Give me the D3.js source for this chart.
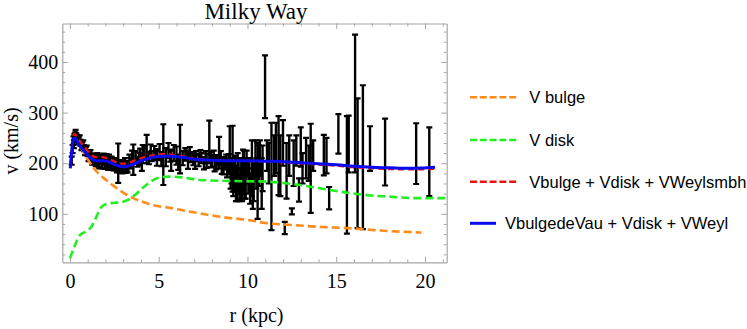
<!DOCTYPE html>
<html>
<head>
<meta charset="utf-8">
<script src="https://cdn.jsdelivr.net/npm/d3@7"></script>
<style>
  body { margin: 0; background: #fff; }
  svg text { fill: #000; }
</style>
</head>
<body>
<svg id="chart" width="747" height="329"></svg>
<script>
// observed rotation curve (r in kpc, v in km/s, symmetric error)
var obsR = [0.10,0.15,0.20,0.25,0.30,0.35,0.40,0.45,0.50,0.60,0.70,0.80,0.90,1.00,1.10,1.20,1.30,1.40,1.50,1.60,
  1.70,1.80,1.90,2.00,2.10,2.20,2.30,2.40,2.50,2.60,2.72,2.80,2.90,3.00,3.10,3.20,3.35,3.45,3.57,3.70,
  3.80,3.95,4.10,4.20,4.32,4.45,4.60,4.75,4.90,5.05,5.26,5.40,5.55,5.70,5.85,6.00,6.20,6.35,6.50,6.65,
  6.80,6.95,7.10,7.25,7.40,7.55,7.70,7.85,8.00,8.15,8.30,8.40,8.55,8.70,8.85,9.00,9.10,9.16,9.25,9.35,
  9.45,9.55,9.65,9.75,9.85,9.95,10.05,10.15,10.25,10.35,10.45,10.57,10.70,10.85,10.99,11.10,11.20,11.35,11.50,11.60,
  11.75,11.85,12.00,12.10,12.20,12.35,12.50,12.60,12.75,12.90,13.00,13.10,13.30,13.45,13.56,13.70,14.30,14.45,14.60,15.12,
  15.60,15.70,16.06,16.20,16.50,16.90,17.75,19.50,20.24,
  0.22,0.32,0.42,0.55,0.65,0.75,0.85,0.95,1.05,1.15,1.25,1.35,1.45,1.55,1.65,1.75,1.85,1.95,2.05,2.15,
  2.25,2.35,2.45,2.55,2.65,2.85,2.95,3.05,3.15,3.25,3.50,3.90,4.05,4.55,4.85,5.15,5.65,6.10,6.55,6.75,
  7.05,7.35,7.65,7.95,8.10,8.25,8.50,8.65,8.80,8.95,9.05,9.20,9.30,9.40,9.50,9.60,9.70,9.80,9.90,10.10,
  10.30,10.50,10.65,10.80];
var obsV = [205,228,245,252,255,253,250,248,245,240,236,230,226,220,215,212,208,205,210,201,
  207,198,212,205,200,210,196,202,198,193,200,190,197,192,200,195,205,200,207,212,
  203,215,218,222,228,210,214,220,210,222,217,212,225,205,220,215,228,210,218,205,
  212,208,214,206,210,200,205,242,204,198,206,221,195,200,190,230,185,209,175,160,
  190,150,170,182,160,200,175,150,190,165,205,165,210,190,351,215,200,174,215,230,
  215,195,240,72,185,215,105,200,225,147,232,190,210,200,190,215,216,215,131,258,
  177,238,318,200,212,229,222,219,203,
  238,260,243,250,232,240,222,230,210,220,203,214,200,215,196,212,205,195,213,193,
  203,208,192,204,188,200,186,198,187,190,215,208,200,225,218,208,215,202,215,220,
  203,216,212,208,215,200,210,193,205,198,180,165,190,145,175,160,140,195,170,185,
  150,180,195,160];
var obsErr = [8,8,8,6,6,6,6,6,6,6,6,6,6,6,7,7,7,7,7,8,
  8,8,7,8,8,7,8,8,8,7,39,8,8,8,10,9,12,10,30,12,
  10,14,18,12,28,12,10,14,15,16,60,18,15,20,16,18,48,14,12,16,
  10,12,10,12,10,12,14,42,12,14,10,31,16,12,18,43,25,65,30,35,
  30,25,40,45,30,25,35,30,55,40,40,75,35,45,62,30,40,106,40,50,
  78,60,45,12,55,40,6,45,30,23,39,30,40,35,88,30,40,35,22,39,
  116,56,136,128,142,44,66,60,68,
  8,6,6,5,6,5,6,5,6,6,6,5,6,5,6,5,6,6,5,6,
  6,5,6,6,6,6,6,6,6,8,10,12,15,12,10,14,12,15,10,12,
  14,10,12,15,10,12,14,15,12,20,30,30,25,20,35,30,15,30,40,25,
  40,30,40,50];

// model curves
var bulgeR = [0.2,0.4,0.6,0.8,1.0,1.3,1.6,2.0,2.5,3.0,3.5,4.0,4.5,5.0,5.6,6.5,7.3,8.5,10,11,12.5,14,15.8,17.5,19.8];
var bulgeV = [250,245,232,220,208,192,180,168,154,142,132,125,119,115,112,106,101,94,88,82,78,74.5,71.5,67,63];

var diskR = [0.0,0.25,0.56,0.9,1.22,1.5,1.78,2.1,2.54,3.0,3.3,3.66,4.0,4.41,4.75,5.07,5.63,6.3,7.32,9,11.08,12,12.96,14,14.83,15.8,16.7,18,19.5,21.4];
var diskV = [12,35,58,65,75,95,114,120,122,124,128,137,148,160,168,172,173.5,172,167,165,163.6,161,157,151,146,141,137,134,131,131];

var smbhR = [0.02,0.08,0.15,0.25,0.35,0.5,0.7,0.9,1.1,1.3,1.5,1.8,2.1,2.4,2.7,3.0,3.3,3.7,4.2,4.7,5.2,5.7,6.3,7,8,9,10,11,12,13,14,15,16,17,18,19,19.8,20.56];
var smbhV = [195,222,248,258,255,247,237,229,220,214,212,212,210,205,201,199,201,206,212,216,218,217,214,209,206,205,204.5,203.5,202,200,197.5,195,192,190,188.5,188,188,189];

var deVauR = smbhR;
var deVauV = [190,215,240,250,247,238,228,220,212,207,205,205,204,199,195,193,195,200,207,212,214,214,212,208,206,205,205,204,203,201,199,197,194,192,191,190,190.5,192];

var xMajor = [0,5,10,15,20];
var yMajor = [100,200,300,400];

var legendNames = ["V bulge", "V disk", "Vbulge + Vdisk + VWeylsmbh", "VbulgedeVau + Vdisk + VWeyl"];
var legendColors = ["#ff8c1a", "#22ee22", "#ee1111", "#0a0aee"];

var svg = d3.select("#chart");
var plotLeft = 62.3, plotRight = 446.7, plotTop = 23.5, plotBottom = 262.3;

var x = d3.scaleLinear().domain([-0.43, 21.22]).range([plotLeft, plotRight]);
var y = d3.scaleLinear().domain([4.3, 476]).range([plotBottom, plotTop]);

svg.append("clipPath").attr("id", "plotclip")
  .append("rect")
  .attr("x", plotLeft).attr("y", plotTop)
  .attr("width", plotRight - plotLeft).attr("height", plotBottom - plotTop);

// frame + ticks
var frameColor = "#a6a6a6";
function styleAxis(g) {
  g.selectAll("path.domain").attr("stroke", frameColor).attr("stroke-width", 1.2);
  g.selectAll(".tick line").attr("stroke", frameColor);
}
var xMinor = d3.range(0, 22, 1).filter(function(d) { return d % 5 !== 0; });
var yMinor = d3.range(20, 480, 20).filter(function(d) { return d % 100 !== 0; });

var axFont = "'Liberation Serif', 'Times New Roman', serif";

[["bottom", plotBottom], ["top", plotTop]].forEach(function(p) {
  var mk = p[0] == "bottom" ? d3.axisBottom : d3.axisTop;
  var g = svg.append("g").attr("transform", "translate(0," + p[1] + ")");
  g.call(mk(x).tickValues(xMinor).tickSize(-3).tickFormat(""));
  var g2 = svg.append("g").attr("transform", "translate(0," + p[1] + ")");
  g2.call(mk(x).tickValues(xMajor).tickSizeInner(-5.5).tickSizeOuter(0).tickPadding(12)
    .tickFormat(p[0] == "bottom" ? d3.format("d") : ""));
  g.select("path.domain").remove();
  styleAxis(g); styleAxis(g2);
  g2.selectAll("text").attr("font-family", axFont).attr("font-size", 20).attr("fill", "#000");
});
[["left", plotLeft], ["right", plotRight]].forEach(function(p) {
  var mk = p[0] == "left" ? d3.axisLeft : d3.axisRight;
  var g = svg.append("g").attr("transform", "translate(" + p[1] + ",0)");
  g.call(mk(y).tickValues(yMinor).tickSize(-3).tickFormat(""));
  var g2 = svg.append("g").attr("transform", "translate(" + p[1] + ",0)");
  g2.call(mk(y).tickValues(yMajor).tickSizeInner(-5.5).tickSizeOuter(0).tickPadding(4)
    .tickFormat(p[0] == "left" ? d3.format("d") : ""));
  g.select("path.domain").remove();
  styleAxis(g); styleAxis(g2);
  g2.selectAll("text").attr("font-family", axFont).attr("font-size", 20).attr("fill", "#000");
});

// error bars
var pts = obsR.map(function(r, i) { return {r: r, v: obsV[i], e: obsErr[i]}; });
var bars = svg.append("g").attr("clip-path", "url(#plotclip)");
var capW = 3;
bars.selectAll("line.eb").data(pts).enter().append("line")
  .attr("x1", function(d) { return x(d.r); }).attr("x2", function(d) { return x(d.r); })
  .attr("y1", function(d) { return y(d.v - d.e); }).attr("y2", function(d) { return y(d.v + d.e); })
  .attr("stroke", "#000").attr("stroke-width", 2.4);
bars.selectAll("line.captop").data(pts).enter().append("line")
  .attr("x1", function(d) { return x(d.r) - capW; }).attr("x2", function(d) { return x(d.r) + capW; })
  .attr("y1", function(d) { return y(d.v + d.e); }).attr("y2", function(d) { return y(d.v + d.e); })
  .attr("stroke", "#000").attr("stroke-width", 2.2);
bars.selectAll("line.capbot").data(pts).enter().append("line")
  .attr("x1", function(d) { return x(d.r) - capW; }).attr("x2", function(d) { return x(d.r) + capW; })
  .attr("y1", function(d) { return y(d.v - d.e); }).attr("y2", function(d) { return y(d.v - d.e); })
  .attr("stroke", "#000").attr("stroke-width", 2.2);

// model curves
var line = d3.line()
  .x(function(d) { return x(d[0]); })
  .y(function(d) { return y(d[1]); })
  .curve(d3.curveMonotoneX);
var curves = svg.append("g").attr("clip-path", "url(#plotclip)");
function addCurve(rs, vs, color, width, dash) {
  curves.append("path")
    .datum(rs.map(function(r, i) { return [r, vs[i]]; }))
    .attr("d", line)
    .attr("fill", "none")
    .attr("stroke", color)
    .attr("stroke-width", width)
    .attr("stroke-dasharray", dash);
}
addCurve(bulgeR, bulgeV, legendColors[0], 2.6, "8,4");
addCurve(diskR, diskV, legendColors[1], 2.6, "8,4");
addCurve(smbhR, smbhV, legendColors[2], 2.4, "6,4");
addCurve(deVauR, deVauV, legendColors[3], 3, null);

// title and axis labels
svg.append("text").attr("x", 256).attr("y", 18.5)
  .attr("text-anchor", "middle").attr("font-family", axFont).attr("font-size", 23)
  .text("Milky Way");
svg.append("text").attr("x", 256.5).attr("y", 322)
  .attr("text-anchor", "middle").attr("font-family", axFont).attr("font-size", 20)
  .text("r (kpc)");
svg.append("text")
  .attr("transform", "translate(18,141) rotate(-90)")
  .attr("text-anchor", "middle").attr("font-family", axFont).attr("font-size", 20)
  .text("v (km/s)");

// legend
var legendY = [97.3, 140, 181.7, 223.3];
var leg = svg.append("g");
legendNames.forEach(function(name, i) {
  var solid = i == 3;
  leg.append("line")
    .attr("x1", 470).attr("x2", solid ? 496 : 518)
    .attr("y1", legendY[i]).attr("y2", legendY[i])
    .attr("stroke", legendColors[i])
    .attr("stroke-width", solid ? 3 : 2.6)
    .attr("stroke-dasharray", solid ? null : "7,2.8");
  leg.append("text")
    .attr("x", solid ? 505 : 529.3).attr("y", legendY[i])
    .attr("dy", "0.36em")
    .attr("font-family", "'Liberation Sans', Arial, sans-serif")
    .attr("font-size", 16.5)
    .text(name);
});
</script>
</body>
</html>
